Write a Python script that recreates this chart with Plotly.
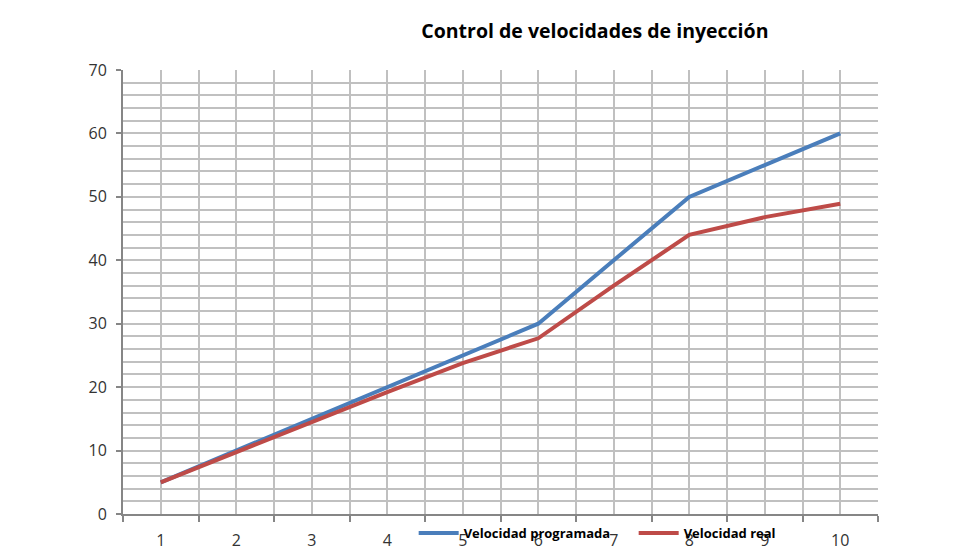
import plotly.graph_objects as go

x_vals = [1, 2, 3, 4, 5, 6, 7, 8, 9, 10]
programada = [5, 10, 15, 20, 25, 30, 40, 50, 55, 60]
real = [5, 9.8, 14.5, 19.2, 23.8, 27.7, 36.0, 44.0, 46.8, 48.9]
title_text = "Control de velocidades de inyección"
names = ["Velocidad programada", "Velocidad real"]

FONT = "Open Sans, Liberation Sans, sans-serif"

fig = go.Figure()
fig.add_trace(go.Scatter(x=x_vals, y=programada, mode="lines", name=names[0],
                         line=dict(color="#4A7EBB", width=4)))
fig.add_trace(go.Scatter(x=x_vals, y=real, mode="lines", name=names[1],
                         line=dict(color="#BE4B48", width=4)))

grid = "#C0C0C0"
axis_c = "#868686"

fig.update_layout(
    width=980, height=560,
    margin=dict(l=123, r=102, t=70, b=46, autoexpand=False),
    paper_bgcolor="white", plot_bgcolor="white",
    font=dict(family=FONT, color="#333333", size=16),
    title=dict(text="<b>" + title_text + "</b>", x=0.607, xanchor="center",
               y=1 - 31 / 560, yanchor="middle", xref="container", yref="container",
               font=dict(size=19.5, color="#000000", family=FONT)),
    showlegend=True,
    legend=dict(orientation="h", x=0.385, xanchor="left", y=-0.043, yanchor="middle",
                bgcolor="rgba(0,0,0,0)", font=dict(size=13, color="#000000", family=FONT, weight="bold"),
                entrywidth=165, itemwidth=40, tracegroupgap=0),
    xaxis=dict(range=[0.5, 10.5], tickmode="array", tickvals=x_vals,
               ticktext=[str(v) for v in x_vals], ticks="", showgrid=True,
               gridcolor=grid, gridwidth=1.5, zeroline=False,
               showline=True, linecolor=axis_c, linewidth=2, automargin=False,
               ticklabelstandoff=11,
               minor=dict(tickmode="array", tickvals=[i + 0.5 for i in range(0, 11)],
                          ticks="outside", ticklen=6, tickcolor=axis_c, tickwidth=2,
                          showgrid=True, gridcolor=grid, gridwidth=1.5),
               fixedrange=True),
    yaxis=dict(range=[0, 70], tick0=0, dtick=10, ticks="outside", ticklen=5,
               tickcolor=axis_c, tickwidth=2, showgrid=True, gridcolor=grid, gridwidth=1.5,
               zeroline=False, showline=True, linecolor=axis_c, linewidth=2, automargin=False,
               ticklabelstandoff=6,
               minor=dict(dtick=2, tick0=0, showgrid=True, gridcolor=grid, gridwidth=1.5, ticks=""),
               fixedrange=True),
)

fig.write_html("out.html")
